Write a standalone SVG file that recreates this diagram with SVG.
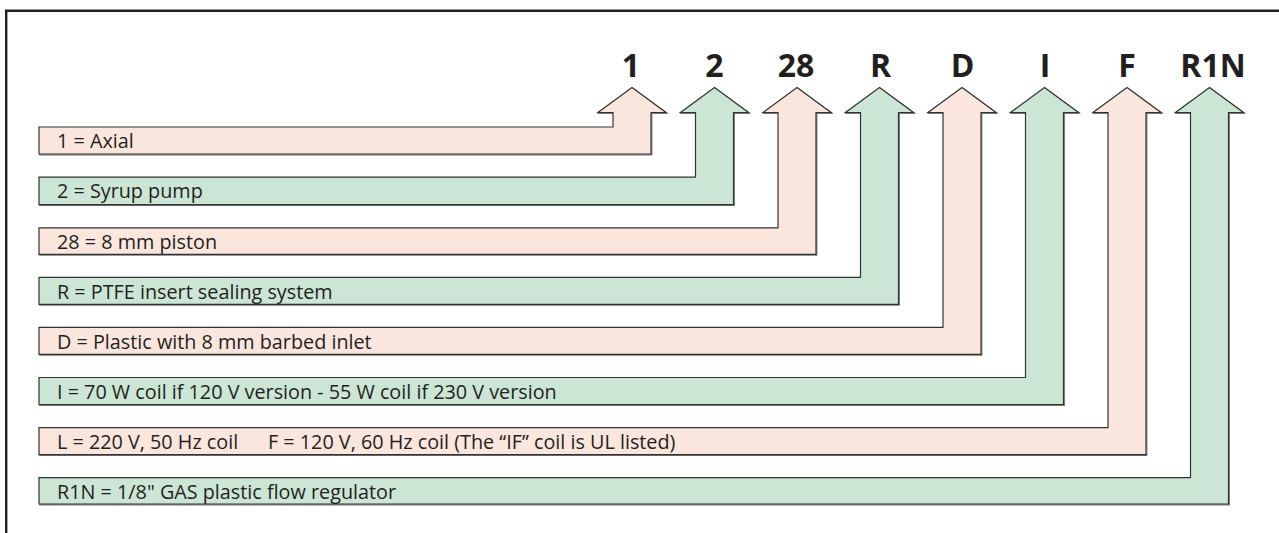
<svg xmlns="http://www.w3.org/2000/svg" width="1279" height="533" viewBox="0 0 1279 533">
<style>
.pink{fill:#fbe6de;stroke:#333;stroke-width:1.2;stroke-linejoin:miter}
.green{fill:#cce6d5;stroke:#333;stroke-width:1.2;stroke-linejoin:miter}
.shadow{fill:none;stroke:#777;stroke-width:1.2}
.lbl{font-family:"Open Sans","Liberation Sans",sans-serif;font-size:19.8px;fill:#231f20}
.code{font-family:"Open Sans","Liberation Sans",sans-serif;font-weight:bold;font-size:32px;fill:#231f20;text-anchor:middle}
</style>
<rect width="1279" height="533" fill="#ffffff"/>
<g id="frame">
<path d="M6.2 533 V10.7 H1279" fill="none" stroke="#231f20" stroke-width="2.4"/>
</g>
<g id="connectors">
<path class="shadow" transform="translate(0.8,0.8)" d="M39 127 H613 V112.5 H598 L632 87.5 L666 112.5 H651 V154 H39 Z"/>
<path class="pink" d="M39 127 H613 V112.5 H598 L632 87.5 L666 112.5 H651 V154 H39 Z"/>
<path class="shadow" transform="translate(0.8,0.8)" d="M39 177.1 H695.5 V112.5 H680.5 L714.5 87.5 L748.5 112.5 H733.5 V204.6 H39 Z"/>
<path class="green" d="M39 177.1 H695.5 V112.5 H680.5 L714.5 87.5 L748.5 112.5 H733.5 V204.6 H39 Z"/>
<path class="shadow" transform="translate(0.8,0.8)" d="M39 227.8 H778 V112.5 H763 L797 87.5 L831 112.5 H816 V254.3 H39 Z"/>
<path class="pink" d="M39 227.8 H778 V112.5 H763 L797 87.5 L831 112.5 H816 V254.3 H39 Z"/>
<path class="shadow" transform="translate(0.8,0.8)" d="M39 277.3 H860.5 V112.5 H845.5 L879.5 87.5 L913.5 112.5 H898.5 V304.3 H39 Z"/>
<path class="green" d="M39 277.3 H860.5 V112.5 H845.5 L879.5 87.5 L913.5 112.5 H898.5 V304.3 H39 Z"/>
<path class="shadow" transform="translate(0.8,0.8)" d="M39 327.4 H943 V112.5 H928 L962 87.5 L996 112.5 H981 V354.4 H39 Z"/>
<path class="pink" d="M39 327.4 H943 V112.5 H928 L962 87.5 L996 112.5 H981 V354.4 H39 Z"/>
<path class="shadow" transform="translate(0.8,0.8)" d="M39 377.5 H1025.5 V112.5 H1010.5 L1044.5 87.5 L1078.5 112.5 H1063.5 V404.5 H39 Z"/>
<path class="green" d="M39 377.5 H1025.5 V112.5 H1010.5 L1044.5 87.5 L1078.5 112.5 H1063.5 V404.5 H39 Z"/>
<path class="shadow" transform="translate(0.8,0.8)" d="M39 427.6 H1108 V112.5 H1093 L1127 87.5 L1161 112.5 H1146 V454.6 H39 Z"/>
<path class="pink" d="M39 427.6 H1108 V112.5 H1093 L1127 87.5 L1161 112.5 H1146 V454.6 H39 Z"/>
<path class="shadow" transform="translate(0.8,0.8)" d="M39 477.7 H1190.5 V112.5 H1175.5 L1209.5 87.5 L1243.5 112.5 H1228.5 V504 H39 Z"/>
<path class="green" d="M39 477.7 H1190.5 V112.5 H1175.5 L1209.5 87.5 L1243.5 112.5 H1228.5 V504 H39 Z"/>
</g>
<g id="node-1"><text class="code" x="631" y="77">1</text><text class="lbl" x="57" y="148.3">1 = Axial</text></g>
<g id="node-2"><text class="code" x="714.5" y="77">2</text><text class="lbl" x="57" y="198.4">2 = Syrup pump</text></g>
<g id="node-28"><text class="code" x="796" y="77">28</text><text class="lbl" x="57" y="249.1">28 = 8 mm piston</text></g>
<g id="node-R"><text class="code" x="880.5" y="77">R</text><text class="lbl" x="57" y="298.6">R = PTFE insert sealing system</text></g>
<g id="node-D"><text class="code" x="962.5" y="77">D</text><text class="lbl" x="57" y="348.7">D = Plastic with 8 mm barbed inlet</text></g>
<g id="node-I"><text class="code" x="1045" y="77">I</text><text class="lbl" x="57" y="398.8">I = 70 W coil if 120 V version - 55 W coil if 230 V version</text></g>
<g id="node-F"><text class="code" x="1127" y="77">F</text><text class="lbl" x="57" y="448.9">L = 220 V, 50 Hz coil</text><text class="lbl" x="268" y="448.9">F = 120 V, 60 Hz coil (The “IF” coil is UL listed)</text></g>
<g id="node-R1N"><text class="code" x="1213" y="77">R1N</text><text class="lbl" x="57" y="499">R1N = 1/8" GAS plastic flow regulator</text></g>
</svg>
